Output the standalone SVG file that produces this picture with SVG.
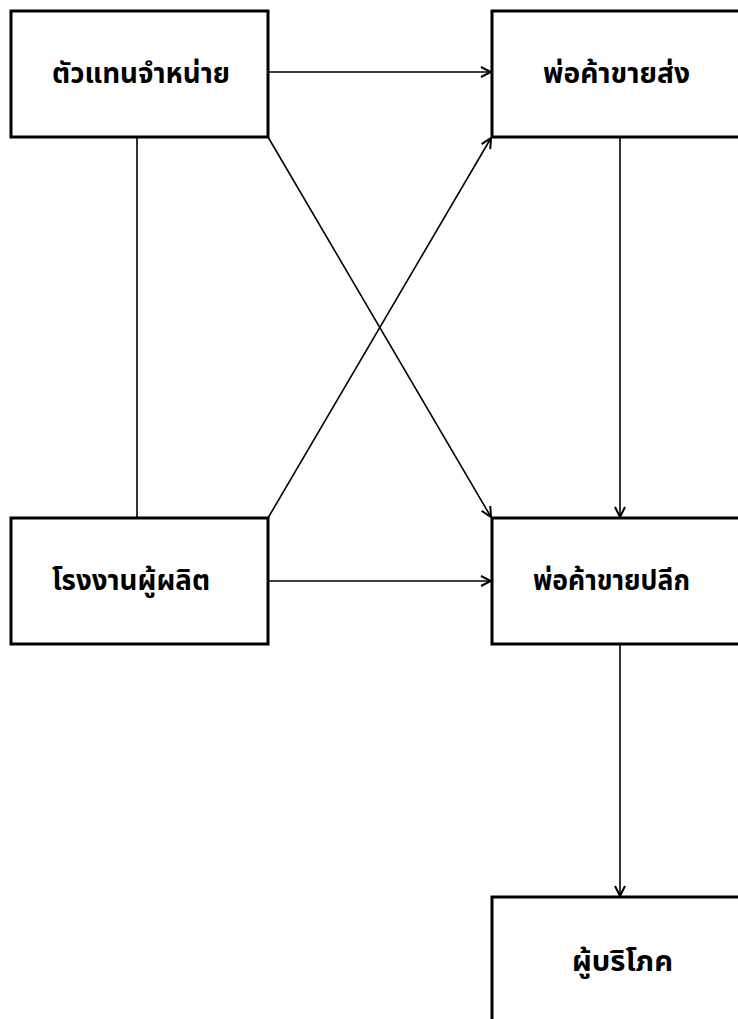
<svg xmlns="http://www.w3.org/2000/svg" width="738" height="1019" viewBox="0 0 738 1019">
<style>
.box{fill:#fff;stroke:#000;stroke-width:3}
.lbl{font-family:"Noto Sans Thai","Noto Sans Thai UI","Loma","Garuda","DejaVu Sans",sans-serif;font-weight:bold;font-size:28px;fill:#000}
.c{stroke:#000;stroke-width:1.6;fill:none}
</style>
<defs>
<marker id="ah" viewBox="0 0 12 12" refX="11" refY="6" markerWidth="12" markerHeight="12" markerUnits="userSpaceOnUse" orient="auto">
<path d="M1,1 L11,6 L1,11" fill="none" stroke="#000" stroke-width="2"/>
</marker>
</defs>
<rect width="738" height="1019" fill="#fff"/>
<g id="connectors">
<line class="c" x1="268" y1="72" x2="491" y2="72" marker-end="url(#ah)"/>
<line class="c" x1="137" y1="137" x2="137" y2="518"/>
<line class="c" x1="268" y1="137" x2="491" y2="517" marker-end="url(#ah)"/>
<line class="c" x1="268" y1="518" x2="491" y2="138" marker-end="url(#ah)"/>
<line class="c" x1="268" y1="581" x2="491" y2="581" marker-end="url(#ah)"/>
<line class="c" x1="620" y1="137" x2="620" y2="517" marker-end="url(#ah)"/>
<line class="c" x1="620" y1="644" x2="620" y2="896" marker-end="url(#ah)"/>
</g>
<g id="n1"><rect class="box" x="11" y="11" width="257" height="126"/><text class="lbl" x="52" y="83" textLength="178" lengthAdjust="spacingAndGlyphs">ตัวแทนจำหน่าย</text></g>
<g id="n2"><rect class="box" x="492" y="11" width="260" height="126"/><text class="lbl" x="543" y="83" textLength="147" lengthAdjust="spacingAndGlyphs">พ่อค้าขายส่ง</text></g>
<g id="n3"><rect class="box" x="11" y="518" width="257" height="126"/><text class="lbl" x="52" y="590" textLength="158" lengthAdjust="spacingAndGlyphs">โรงงานผู้ผลิต</text></g>
<g id="n4"><rect class="box" x="492" y="518" width="260" height="126"/><text class="lbl" x="533" y="590" textLength="157" lengthAdjust="spacingAndGlyphs">พ่อค้าขายปลีก</text></g>
<g id="n5"><rect class="box" x="492" y="897" width="260" height="140"/><text class="lbl" x="572" y="971" textLength="101" lengthAdjust="spacingAndGlyphs">ผู้บริโภค</text></g>
</svg>
